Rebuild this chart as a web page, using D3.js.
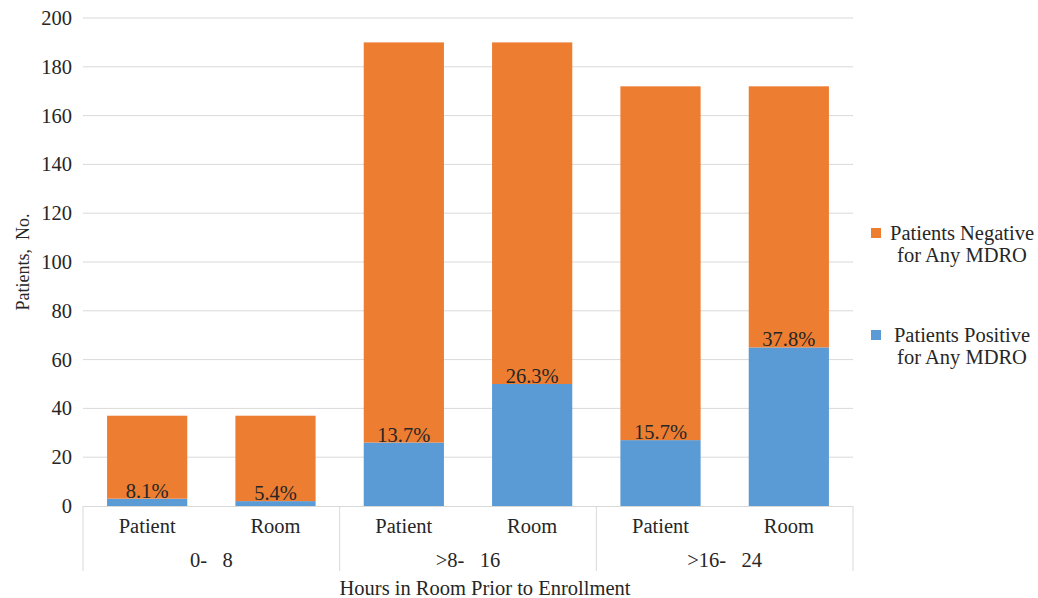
<!DOCTYPE html>
<html><head><meta charset="utf-8">
<script src="https://cdn.jsdelivr.net/npm/d3@7"></script>
<style>body{margin:0;background:#fff}</style>
</head><body><svg id="c" width="1038" height="598"></svg>
<script>
const groups = ["0-   8", ">8-   16", ">16-   24"];
const subcats = ["Patient", "Room"];
const positive = [3, 2, 26, 50, 27, 65];
const negative = [34, 35, 164, 140, 145, 107];
const pctLabels = ["8.1%", "5.4%", "13.7%", "26.3%", "15.7%", "37.8%"];
const yTicks = [0, 20, 40, 60, 80, 100, 120, 140, 160, 180, 200];
const seriesNames = ["Patients Negative\nfor Any MDRO", "Patients Positive\nfor Any MDRO"];
const colors = {neg: "#ED7D31", pos: "#5B9BD5"};
const FONT = "Liberation Serif";
const TXT = "#262626";
const FS = 20.5;

const svg = d3.select("#c");
const L = 83, R = 853, T = 18, B = 506;
const items = [];
groups.forEach((g, gi) => subcats.forEach((s, si) => items.push(gi * 2 + si)));
const x = d3.scaleBand().domain(items).range([L, R]).paddingInner(0.375).paddingOuter(0.1875);
const y = d3.scaleLinear().domain([0, 200]).range([B, T]);

// grid
svg.append("g").selectAll("line").data(yTicks.filter(d => d > 0)).join("line")
  .attr("x1", L).attr("x2", R).attr("y1", d => y(d)).attr("y2", d => y(d))
  .attr("stroke", "#D9D9D9").attr("stroke-width", 1);

// y axis labels
const ya = svg.append("g").attr("transform", `translate(${L},0)`)
  .call(d3.axisLeft(y).tickValues(yTicks).tickSize(0).tickPadding(11));
ya.attr("font-family", FONT).attr("font-size", FS);
ya.select(".domain").remove();
ya.selectAll("text").attr("fill", TXT).attr("font-family", FONT).attr("font-size", FS);

// bars
svg.append("g").selectAll("rect").data(items).join("rect")
  .attr("x", i => x(i)).attr("width", x.bandwidth())
  .attr("y", i => y(positive[i])).attr("height", i => y(0) - y(positive[i]))
  .attr("fill", colors.pos);
svg.append("g").selectAll("rect").data(items).join("rect")
  .attr("x", i => x(i)).attr("width", x.bandwidth())
  .attr("y", i => y(positive[i] + negative[i])).attr("height", i => y(positive[i]) - y(positive[i] + negative[i]))
  .attr("fill", colors.neg);

function txt(sel) { return sel.attr("font-family", FONT).attr("fill", TXT); }

// data labels
txt(svg.append("g").selectAll("text").data(items).join("text"))
  .attr("x", i => x(i) + x.bandwidth() / 2).attr("y", i => y(positive[i]) - 1)
  .attr("text-anchor", "middle").attr("font-size", FS).text(i => pctLabels[i]);

// category axis
const ax = svg.append("g");
ax.append("line").attr("x1", L).attr("x2", R).attr("y1", B + 0.5).attr("y2", B + 0.5).attr("stroke", "#D9D9D9");
const gw = (R - L) / groups.length;
d3.range(groups.length + 1).forEach(k => {
  ax.append("line").attr("x1", L + k * gw).attr("x2", L + k * gw).attr("y1", B).attr("y2", 571).attr("stroke", "#D9D9D9");
});
txt(ax.selectAll("text.sub").data(items).join("text").attr("class", "sub"))
  .attr("x", i => x(i) + x.bandwidth() / 2).attr("y", 533).attr("text-anchor", "middle")
  .attr("font-size", FS).text(i => subcats[i % 2]);
txt(ax.selectAll("text.grp").data(groups).join("text").attr("class", "grp"))
  .attr("x", (d, k) => L + (k + 0.5) * gw).attr("y", 567).attr("text-anchor", "middle")
  .style("white-space", "pre").attr("font-size", FS).text(d => d);

// axis titles
txt(svg.append("text")).attr("x", 485).attr("y", 595).attr("text-anchor", "middle")
  .attr("font-size", FS).text("Hours in Room Prior to Enrollment");
txt(svg.append("text")).attr("transform", "translate(29,262) rotate(-90)").attr("text-anchor", "middle")
  .attr("font-size", 18).style("white-space", "pre").text("Patients,  No.");

// legend
const lg = svg.append("g");
[[colors.neg, 233, seriesNames[0]], [colors.pos, 335, seriesNames[1]]].forEach(([c, cy, name]) => {
  const lines = name.split("\n");
  lg.append("rect").attr("x", 871).attr("y", cy - 5).attr("width", 10).attr("height", 10).attr("fill", c);
  txt(lg.append("text")).attr("x", 962).attr("y", cy + 7).attr("text-anchor", "middle").attr("font-size", FS).text(lines[0]);
  txt(lg.append("text")).attr("x", 962).attr("y", cy + 29).attr("text-anchor", "middle").attr("font-size", FS).text(lines[1]);
});
</script></body></html>
